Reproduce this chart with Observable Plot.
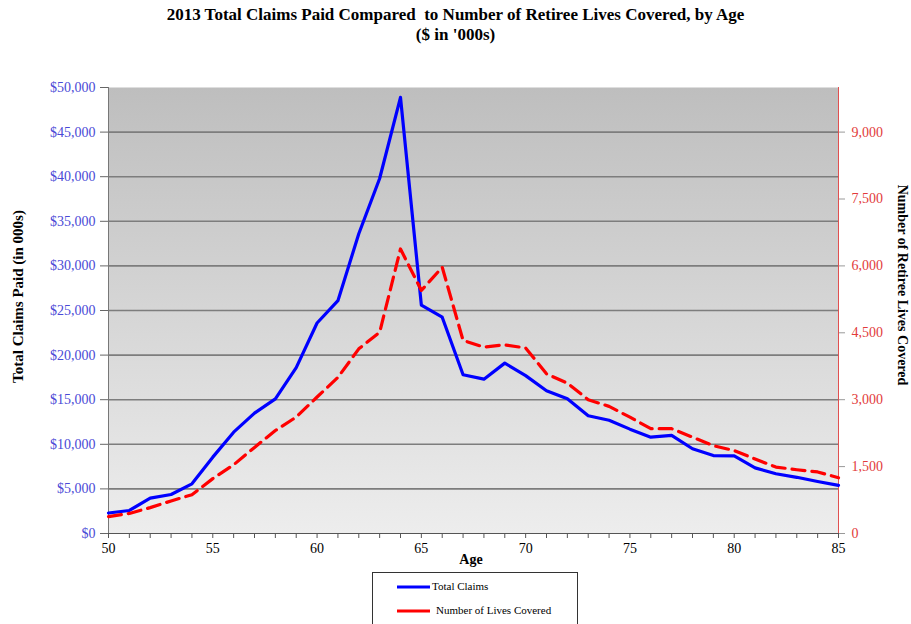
<!DOCTYPE html>
<html><head><meta charset="utf-8">
<script src="https://cdn.jsdelivr.net/npm/d3@7"></script>
<script src="https://cdn.jsdelivr.net/npm/@observablehq/plot@0.6"></script>
<style>
body{margin:0;background:#fff;font-family:"Liberation Serif","Times New Roman",serif;}
#wrap{position:relative;width:911px;height:624px;overflow:hidden;}
#wrap svg{position:absolute;left:0;top:0;}
.t{position:absolute;white-space:nowrap;color:#000;}
.title{left:0;width:911px;text-align:center;font-weight:bold;font-size:17px;}
.ylab{font-weight:bold;transform-origin:center center;}
#legend{position:absolute;left:372px;top:572px;width:204px;height:60px;border:1px solid #333;background:#fff;font-size:11px;}
</style></head><body><div id="wrap"></div>
<script>
const ages = [50,51,52,53,54,55,56,57,58,59,60,61,62,63,64,65,66,67,68,69,70,71,72,73,74,75,76,77,78,79,80,81,82,83,84,85];
const claims = [2300,2580,3960,4370,5570,8560,11360,13500,15100,18600,23600,26100,33600,39800,48900,25600,24250,17800,17300,19100,17700,16000,15100,13200,12700,11700,10800,11000,9500,8740,8700,7360,6700,6300,5830,5400];
const lives = [380,450,580,730,870,1230,1540,1930,2310,2610,3060,3500,4140,4510,6380,5450,5970,4330,4180,4230,4160,3580,3370,3000,2850,2610,2350,2350,2160,1970,1860,1670,1490,1430,1380,1250];
const leftTicks = [0,5000,10000,15000,20000,25000,30000,35000,40000,45000,50000];
const rightTicks = [0,1500,3000,4500,6000,7500,9000];
const xLabelTicks = [50,55,60,65,70,75,80,85];

const rows = ages.map((a,i)=>({age:a, claims:claims[i], lives:lives[i]}));
const ratio = 50000/10000;

const chart = Plot.plot({
  width:911, height:624,
  marginTop:87, marginBottom:91, marginLeft:108, marginRight:73,
  style:{fontFamily:"Liberation Serif, serif", fontSize:"14px", background:"transparent", overflow:"visible"},
  x:{domain:[50,85]},
  y:{domain:[0,50000]},
  marks:[
    Plot.frame({fill:"url(#bg)", stroke:null}),
    Plot.ruleY(leftTicks.slice(1,-1), {stroke:"#7d7d7d", strokeWidth:1.6}),
    Plot.ruleY([0], {stroke:"#555", strokeWidth:1}),
    Plot.ruleX([50], {stroke:"#777", strokeWidth:1}),
    Plot.ruleX([85], {stroke:"#e05050", strokeWidth:1}),
    Plot.axisX(ages, {tickSize:5, stroke:"#555", fill:"#000", tickFormat:d => xLabelTicks.includes(d) ? String(d) : "", tickPadding:5, label:null}),
    Plot.axisY(leftTicks, {tickSize:8, stroke:"#666", fill:"#4a4ad6", tickFormat:d => "$" + d3.format(",")(d), tickPadding:5, label:null}),
    Plot.axisY(rightTicks.map(v => v*ratio), {anchor:"right", tickSize:6, stroke:"#999", fill:"#e23b3b", tickFormat:d => d3.format(",")(d/ratio), tickPadding:7, label:null}),
    Plot.line(rows, {x:"age", y:"claims", stroke:"#0000ff", strokeWidth:3.2}),
    Plot.line(rows, {x:"age", y:d => d.lives*ratio, stroke:"#ff0000", strokeWidth:3.2, strokeDasharray:"13,7"})
  ]
});
d3.select(chart).insert("defs", ":first-child").html('<linearGradient id="bg" x1="0" y1="0" x2="0" y2="1"><stop offset="0" stop-color="#bebebe"/><stop offset="1" stop-color="#ededed"/></linearGradient>');

const wrap = document.getElementById("wrap");
wrap.appendChild(chart);
wrap.insertAdjacentHTML("beforeend", `
<div class="t title" style="top:5px">2013 Total Claims Paid Compared &nbsp;to Number of Retiree Lives Covered, by Age</div>
<div class="t title" style="top:25px">($ in '000s)</div>
<div class="t ylab" style="left:-82px;top:288px;width:200px;text-align:center;transform:rotate(-90deg);font-size:15px">Total Claims Paid (in 000s)</div>
<div class="t ylab" style="left:792px;top:277px;width:220px;text-align:center;transform:rotate(90deg);font-size:14px">Number of Retiree Lives Covered</div>
<div class="t" style="left:371px;width:200px;text-align:center;top:552px;font-weight:bold;font-size:14px">Age</div>
<div id="legend">
  <svg width="204" height="60" style="position:absolute;left:0;top:0">
    <line x1="24" y1="14" x2="57" y2="14" stroke="#0000ff" stroke-width="3"/>
    <line x1="24" y1="38" x2="57" y2="38" stroke="#ff0000" stroke-width="3"/>
  </svg>
  <div class="t" style="left:59px;top:7px;font-size:11px">Total Claims</div>
  <div class="t" style="left:63px;top:31px;font-size:11px">Number of Lives Covered</div>
</div>
`);
</script>
</body></html>
